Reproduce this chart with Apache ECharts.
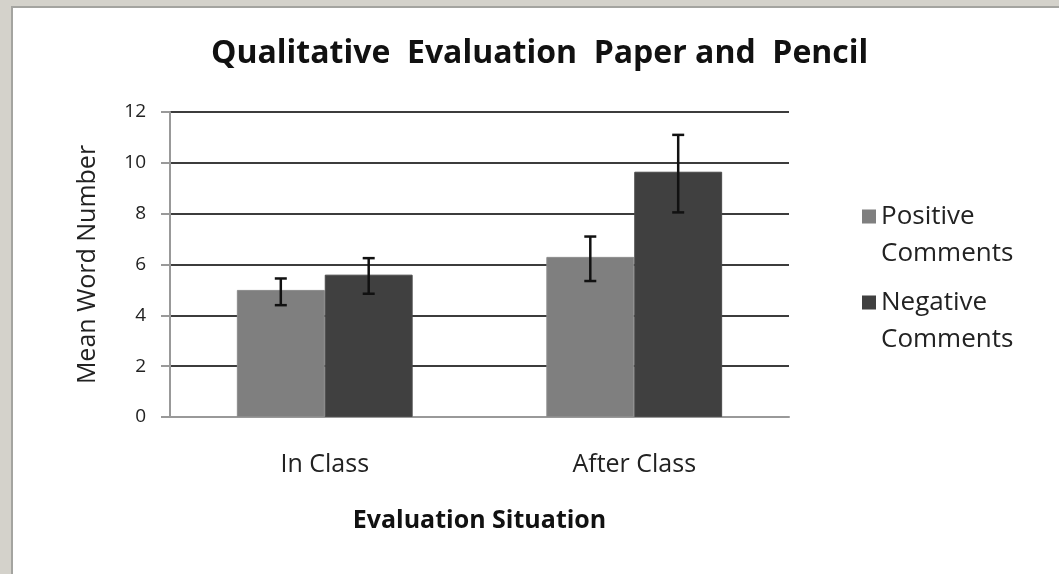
<!DOCTYPE html>
<html>
<head>
<meta charset="utf-8">
<script src="https://cdn.jsdelivr.net/npm/echarts@6/dist/echarts.min.js"></script>
<style>
    body { margin: 0; background: #d4d2cb; }
    #frame { position: absolute; left: 11px; top: 6px; right: 0; bottom: 0; background: #fff;
             border-left: 2px solid #a4a4a0; border-top: 2px solid #a4a4a0; }
    #chart { position: absolute; left: 0; top: 0; width: 1059px; height: 574px; }
</style>
</head>
<body>
<div id="frame"></div>
<div id="chart"></div>
<script>
    const categories = ['In Class', 'After Class'];
    const seriesNames = ['Positive\nComments', 'Negative\nComments'];
    const positiveMeans = [5.0, 6.3];
    const negativeMeans = [5.6, 9.65];
    // error bar ends [low, high] per category
    const positiveErr = [[4.4, 5.45], [5.35, 7.1]];
    const negativeErr = [[4.85, 6.25], [8.05, 11.1]];
    const yTicks = [0, 2, 4, 6, 8, 10, 12];

    const barPct = 0.284;
    const font = '"Open Sans", sans-serif';
    // square at the top of a tall box so it lines up with the first legend line
    const legendIcon = 'path://M0,0h14v14h-14z M0,51L14,51';

    function errorSeries(errs, side) {
        return {
            type: 'custom',
            z: 10,
            data: errs.map((e, i) => [i, e[0], e[1]]),
            renderItem: (params, api) => {
                const band = api.size([1, 0])[0];
                const cx = api.coord([api.value(0), 0])[0] + side * band * barPct / 2;
                const lo = api.coord([api.value(0), api.value(1)])[1];
                const hi = api.coord([api.value(0), api.value(2)])[1];
                const w = 6;
                const style = { stroke: '#111', lineWidth: 2.5 };
                return {
                    type: 'group',
                    children: [
                        { type: 'line', shape: { x1: cx, y1: lo, x2: cx, y2: hi }, style },
                        { type: 'line', shape: { x1: cx - w, y1: lo, x2: cx + w, y2: lo }, style },
                        { type: 'line', shape: { x1: cx - w, y1: hi, x2: cx + w, y2: hi }, style }
                    ]
                };
            }
        };
    }

    let chart = echarts.init(document.getElementById('chart'));
    chart.setOption({
        animation: false,
        title: {
            text: 'Qualitative  Evaluation  Paper and  Pencil',
            left: 206,
            top: 33,
            textStyle: { fontFamily: font, fontWeight: 'bold', fontSize: 32, color: '#111' }
        },
        legend: {
            orient: 'vertical',
            left: 857,
            top: 193,
            itemWidth: 14,
            itemHeight: 51,
            itemGap: 12,
            icon: legendIcon,
            itemStyle: { borderWidth: 0 },
            data: seriesNames,
            textStyle: { fontFamily: font, fontSize: 26, color: '#222', lineHeight: 37 }
        },
        grid: { left: 170, right: 270, top: 112, bottom: 157 },
        xAxis: {
            type: 'category',
            data: categories,
            name: 'Evaluation Situation',
            nameLocation: 'middle',
            nameGap: 91,
            nameTextStyle: { fontFamily: font, fontWeight: 'bold', fontSize: 25, color: '#111' },
            axisLine: { lineStyle: { color: '#999', width: 2 } },
            axisTick: { show: false },
            axisLabel: { margin: 35, fontFamily: font, fontSize: 25, color: '#222' }
        },
        yAxis: {
            type: 'value',
            min: yTicks[0],
            max: yTicks[yTicks.length - 1],
            interval: 2,
            name: 'Mean Word Number',
            nameLocation: 'middle',
            nameGap: 70,
            nameTextStyle: { fontFamily: font, fontSize: 25, color: '#222' },
            axisLine: { show: true, lineStyle: { color: '#999', width: 2 } },
            axisTick: { show: true, inside: false, length: 9, lineStyle: { color: '#999', width: 2 } },
            axisLabel: { margin: 24, fontFamily: font, fontSize: 19, color: '#222' },
            splitLine: { lineStyle: { color: '#3c3c3c', width: 2 } }
        },
        series: [
            {
                name: seriesNames[0],
                type: 'bar',
                data: positiveMeans,
                barWidth: (barPct * 100) + '%',
                barGap: '0%',
                itemStyle: { color: '#7f7f7f', borderColor: '#8c8c8c', borderWidth: 1 }
            },
            {
                name: seriesNames[1],
                type: 'bar',
                data: negativeMeans,
                barWidth: (barPct * 100) + '%',
                barGap: '0%',
                itemStyle: { color: '#404040', borderColor: '#4a4a4a', borderWidth: 1 }
            },
            errorSeries(positiveErr, -1),
            errorSeries(negativeErr, 1)
        ]
    });
</script>
</body>
</html>
